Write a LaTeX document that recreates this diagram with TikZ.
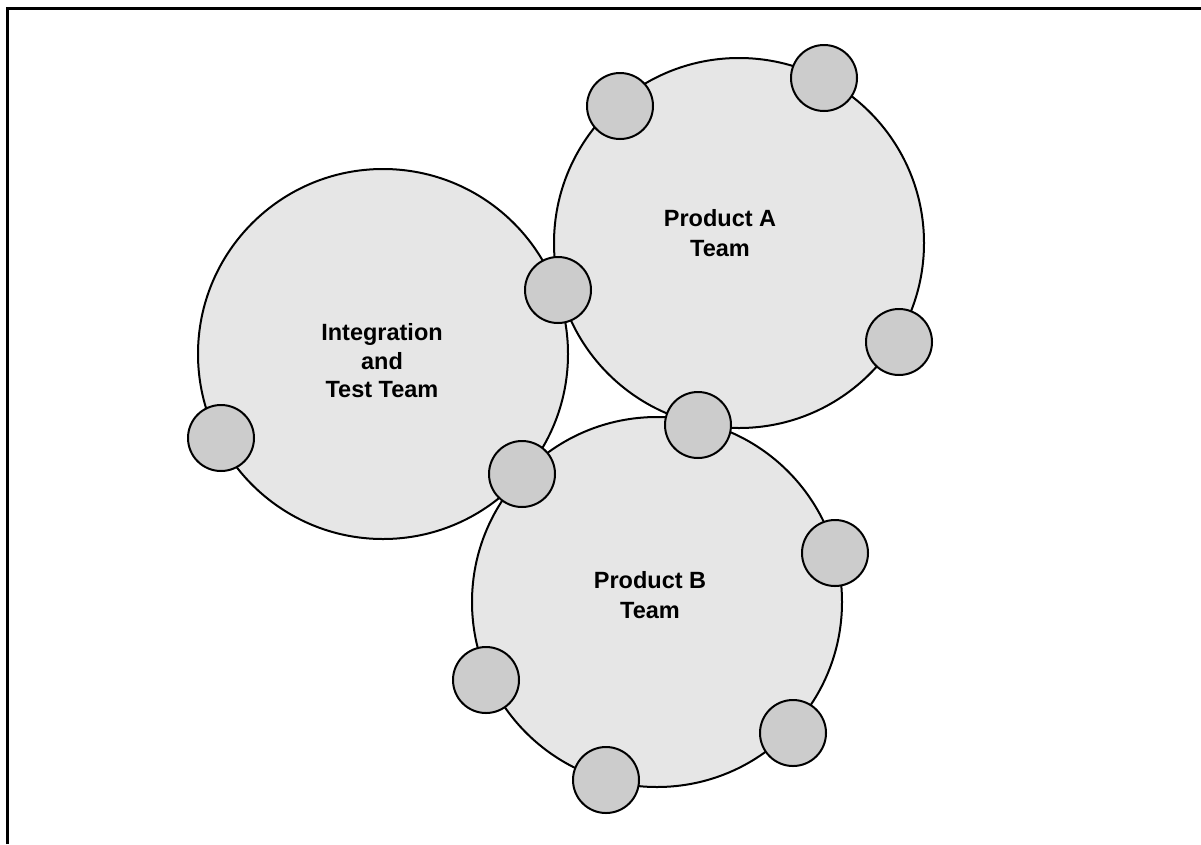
\documentclass[tikz,border=0pt]{standalone}
\usepackage{fontspec}
\setmainfont{Liberation Sans}
\usepackage{xcolor}
\usetikzlibrary{positioning}
\definecolor{tmFill}{HTML}{E6E6E6}
\definecolor{tmMember}{HTML}{CCCCCC}
\tikzset{
  teamcircle/.style={circle, draw=black, line width=2pt, fill=tmFill,
    minimum size=370pt, inner sep=0pt, align=center,
    font=\fontsize{23.5}{28.5}\selectfont\bfseries},
  member/.style={circle, draw=black, line width=2pt, fill=tmMember,
    minimum size=66pt, inner sep=0pt}
}

\begin{document}
\begin{tikzpicture}[x=1pt, y=-1pt]
  \useasboundingbox (0,0) rectangle (1201,844);
  % frame
  \coordinate (frameTL) at (7,8);
  \coordinate (frameTR) at (1201,8);
  \coordinate (frameBL) at (7,844);
  \draw[line width=3pt] (frameBL) -- (frameTL) -- (frameTR);
  % teams
  \node[teamcircle] (intTeam) at (383,354) {};
  \node[teamcircle] (prodA) at (739,243) {};
  \node[teamcircle] (prodB) at (657,602) {};
  \node[font=\fontsize{23.5}{28.5}\selectfont\bfseries, align=center] (intLabel) at (382,361) {Integration\\and\\Test Team};
  \node[font=\fontsize{23.5}{30}\selectfont\bfseries, align=center] (prodALabel) at (720,233) {Product A\\Team};
  \node[font=\fontsize{23.5}{30}\selectfont\bfseries, align=center] (prodBLabel) at (650,595) {Product B\\Team};
  % team members
  \foreach \i/\px/\py in {
    1/620/106, 2/824/78, 3/558/290, 4/899/342, 5/698/425, 6/221/438,
    7/522/474, 8/835/553, 9/486/680, 10/793/733, 11/606/780}{
    \node[member] (m\i) at (\px,\py) {};
  }
\end{tikzpicture}
\end{document}
